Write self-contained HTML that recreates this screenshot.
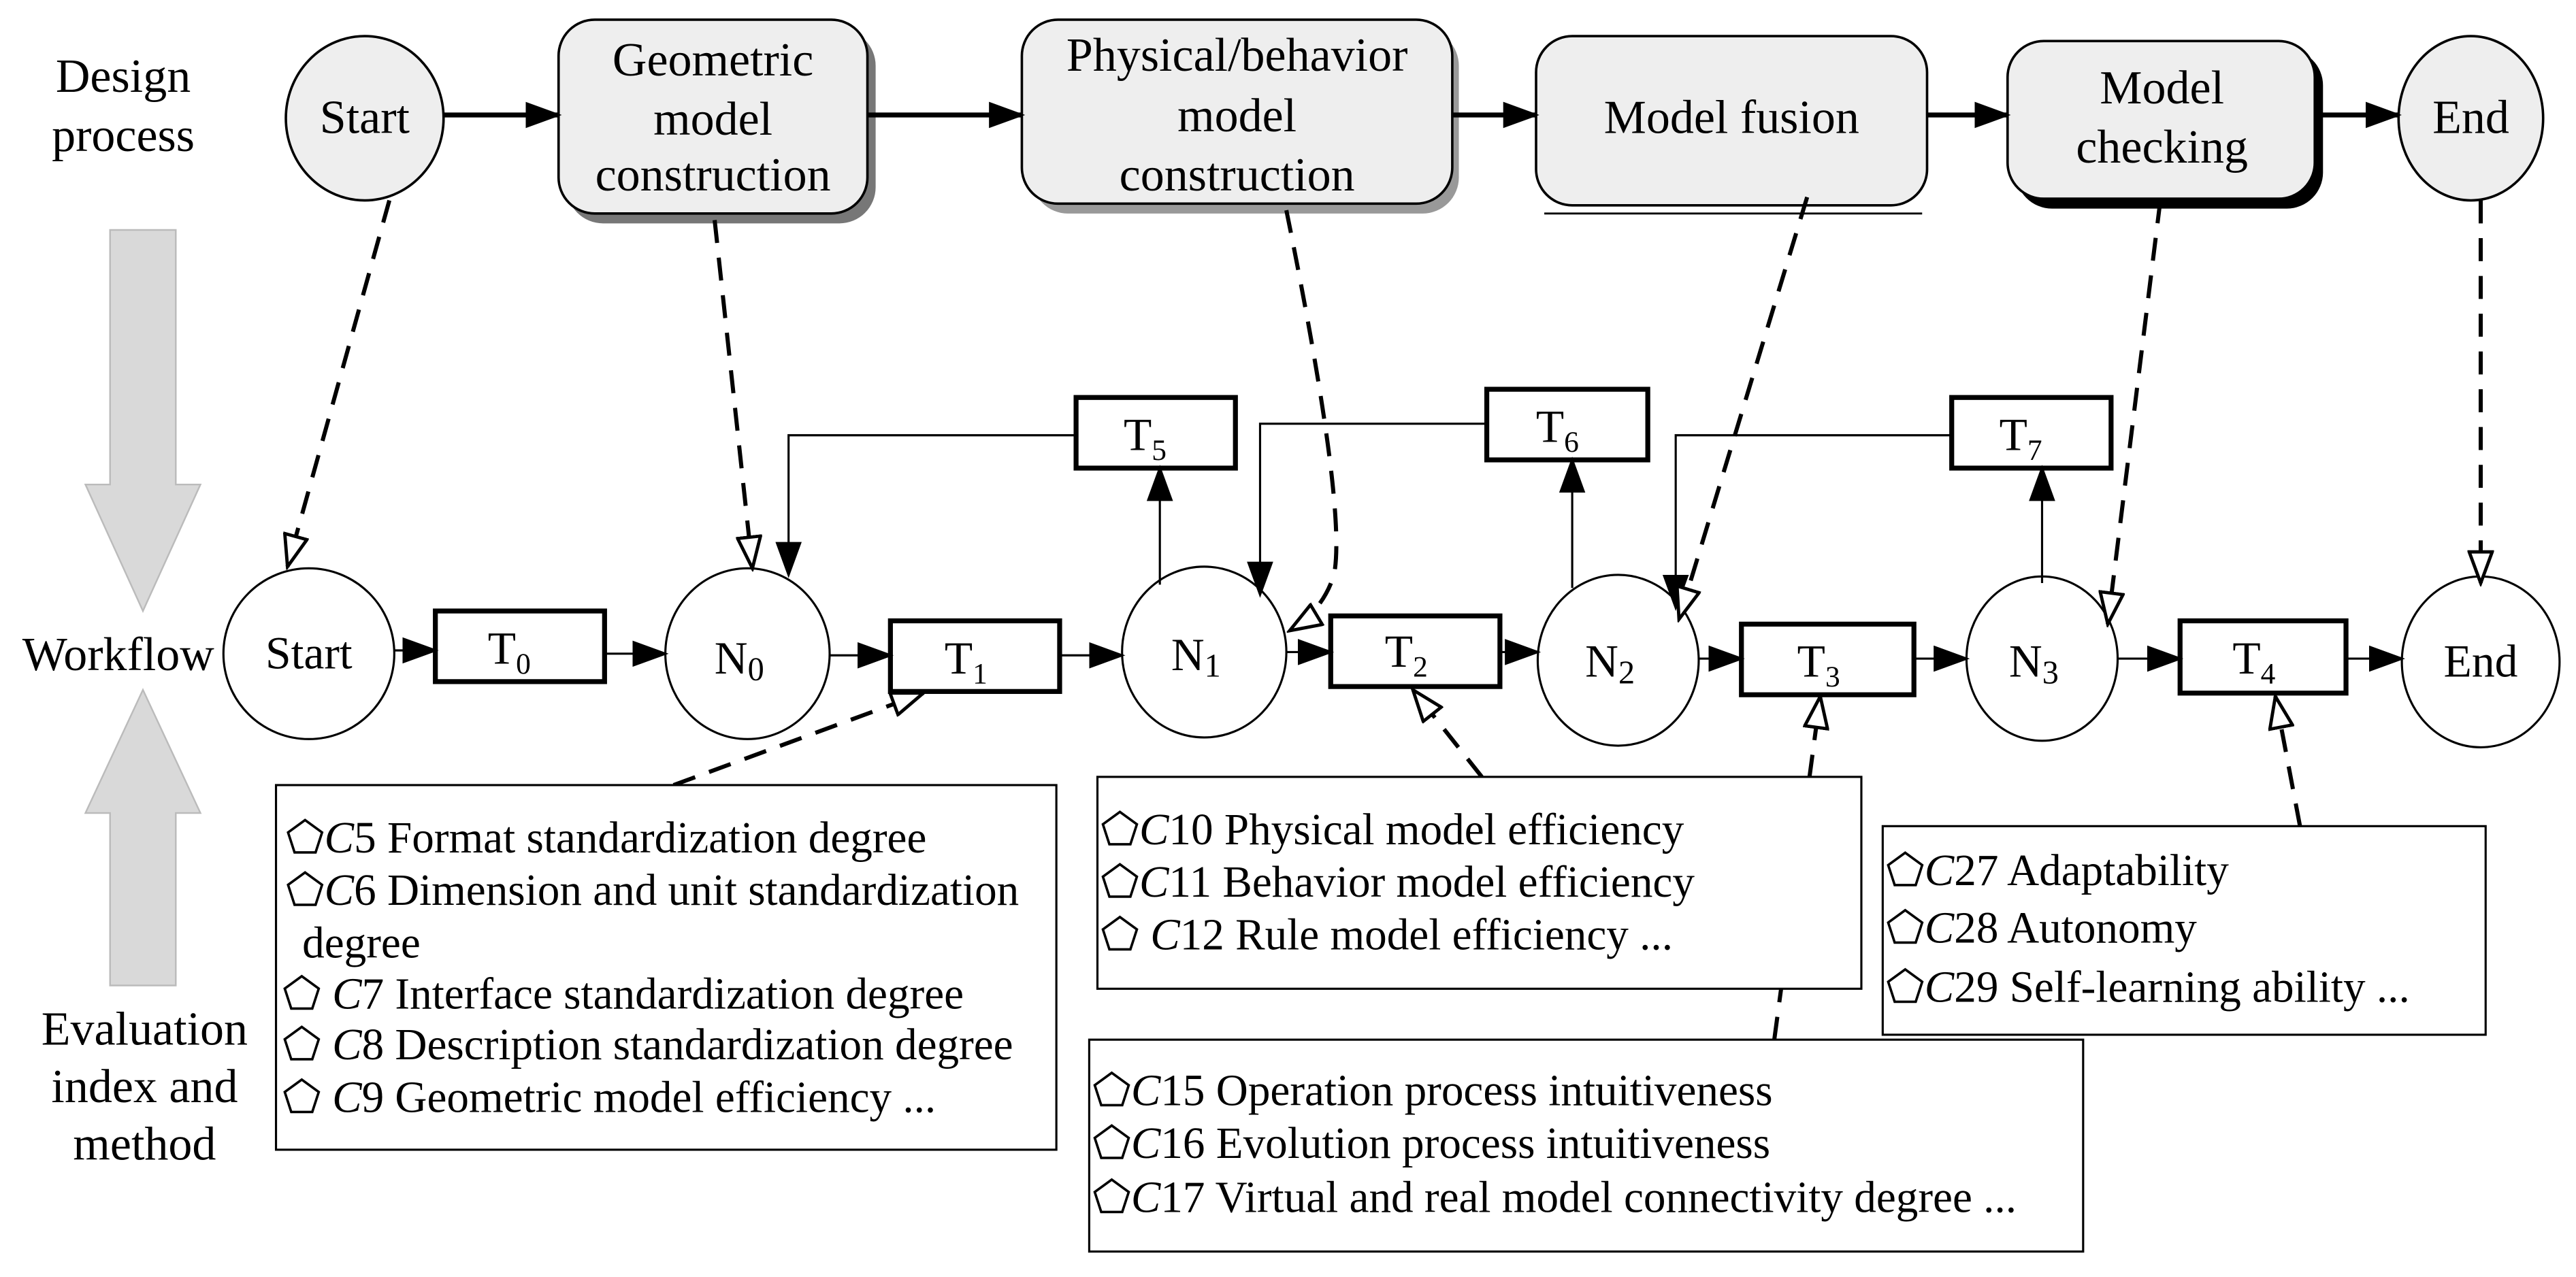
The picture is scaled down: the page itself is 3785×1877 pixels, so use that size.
<!DOCTYPE html>
<html><head><meta charset="utf-8"><style>
html,body{margin:0;padding:0;background:#fff;}
svg{display:block;}
text{font-family:"Liberation Serif",serif;fill:#000;}
</style></head><body>
<svg width="3785" height="1877" viewBox="0 0 1568 777.5" preserveAspectRatio="none" xmlns="http://www.w3.org/2000/svg">
<defs>
<marker id="ab" markerWidth="22" markerHeight="16" refX="20" refY="8" orient="auto" markerUnits="userSpaceOnUse"><path d="M0,0 L22,8 L0,16 z" fill="#000"/></marker>
<marker id="o" markerWidth="22" markerHeight="16" refX="20" refY="8" orient="auto" markerUnits="userSpaceOnUse"><path d="M1,1 L20,8 L1,15 z" fill="#fff" stroke="#000" stroke-width="2"/></marker>
</defs>
<g font-size="29">
<text x="75" y="56" text-anchor="middle">Design</text>
<text x="75" y="92" text-anchor="middle">process</text>
<text x="72" y="408" text-anchor="middle">Workflow</text>
<text x="88" y="636" text-anchor="middle">Evaluation</text>
<text x="88" y="671" text-anchor="middle">index and</text>
<text x="88" y="706" text-anchor="middle">method</text>
</g>
<path d="M67,140 H107 V295 H122 L87,372 L52,295 H67 Z" fill="#d9d9d9" stroke="#bbb" stroke-width="1"/>
<path d="M67,600 H107 V495 H122 L87,420 L52,495 H67 Z" fill="#d9d9d9" stroke="#bbb" stroke-width="1"/>
<g stroke="#000" stroke-width="1.5">
<ellipse cx="222" cy="72" rx="48" ry="50" fill="#eee"/>
<rect x="345" y="18" width="188" height="118" rx="22" fill="#777" stroke="none"/>
<rect x="340" y="12" width="188" height="118" rx="22" fill="#eee"/>
<rect x="628" y="18" width="260" height="112" rx="22" fill="#999" stroke="none"/>
<rect x="622" y="12" width="262" height="112" rx="22" fill="#eee"/>
<rect x="935" y="22" width="238" height="103" rx="22" fill="#eee"/>
<line x1="940" y1="130" x2="1170" y2="130" stroke-width="1.2"/>
<rect x="1227" y="30" width="187" height="97" rx="22" fill="#000" stroke="none"/>
<rect x="1222" y="25" width="187" height="96" rx="22" fill="#eee"/>
<ellipse cx="1504" cy="72" rx="44" ry="50" fill="#eee"/>
</g>
<g font-size="29" text-anchor="middle">
<text x="222" y="81">Start</text>
<text x="434" y="46">Geometric</text><text x="434" y="82">model</text><text x="434" y="116">construction</text>
<text x="753" y="43">Physical/behavior</text><text x="753" y="80">model</text><text x="753" y="116">construction</text>
<text x="1054" y="81">Model fusion</text>
<text x="1316" y="63">Model</text><text x="1316" y="99">checking</text>
<text x="1504" y="81">End</text>
</g>
<g stroke="#000" stroke-width="3" fill="none">
<line x1="270" y1="70" x2="340" y2="70" marker-end="url(#ab)"/>
<line x1="528" y1="70" x2="622" y2="70" marker-end="url(#ab)"/>
<line x1="884" y1="70" x2="935" y2="70" marker-end="url(#ab)"/>
<line x1="1173" y1="70" x2="1222" y2="70" marker-end="url(#ab)"/>
<line x1="1409" y1="70" x2="1460" y2="70" marker-end="url(#ab)"/>
</g>
<g stroke="#000" stroke-width="1.3" fill="#fff">
<ellipse cx="188" cy="398" rx="52" ry="52"/>
<ellipse cx="455" cy="398" rx="50" ry="52"/>
<ellipse cx="733" cy="397" rx="50" ry="52"/>
<ellipse cx="985" cy="402" rx="49" ry="52"/>
<ellipse cx="1243" cy="401" rx="46" ry="50"/>
<ellipse cx="1510" cy="403" rx="48" ry="52"/>
</g>
<g stroke="#000" stroke-width="3" fill="#fff">
<rect x="265" y="372" width="103" height="43"/>
<rect x="542" y="378" width="103" height="43"/>
<rect x="810" y="375" width="103" height="43"/>
<rect x="1060" y="380" width="105" height="43"/>
<rect x="1327" y="378" width="101" height="44"/>
<rect x="655" y="242" width="97" height="43"/>
<rect x="905" y="237" width="98" height="43"/>
<rect x="1188" y="242" width="97" height="43"/>
</g>
<g font-size="28" text-anchor="middle">
<text x="188" y="407">Start</text>
<text x="310" y="404">T<tspan font-size="18" dy="6">0</tspan></text>
<text x="450" y="410">N<tspan font-size="20" dy="4">0</tspan></text>
<text x="588" y="410">T<tspan font-size="18" dy="6">1</tspan></text>
<text x="728" y="408">N<tspan font-size="20" dy="4">1</tspan></text>
<text x="856" y="406">T<tspan font-size="18" dy="6">2</tspan></text>
<text x="980" y="412">N<tspan font-size="20" dy="4">2</tspan></text>
<text x="1107" y="412">T<tspan font-size="18" dy="6">3</tspan></text>
<text x="1238" y="412">N<tspan font-size="20" dy="4">3</tspan></text>
<text x="1372" y="410">T<tspan font-size="18" dy="6">4</tspan></text>
<text x="1510" y="412">End</text>
<text x="697" y="274">T<tspan font-size="18" dy="6">5</tspan></text>
<text x="948" y="269">T<tspan font-size="18" dy="6">6</tspan></text>
<text x="1230" y="274">T<tspan font-size="18" dy="6">7</tspan></text>
</g>
<g stroke="#000" stroke-width="1.3" fill="none">
<line x1="240" y1="396" x2="265" y2="396" marker-end="url(#ab)"/>
<line x1="368" y1="398" x2="405" y2="398" marker-end="url(#ab)"/>
<line x1="505" y1="399" x2="542" y2="399" marker-end="url(#ab)"/>
<line x1="645" y1="399" x2="683" y2="399" marker-end="url(#ab)"/>
<line x1="783" y1="397" x2="810" y2="397" marker-end="url(#ab)"/>
<line x1="913" y1="397" x2="936" y2="397" marker-end="url(#ab)"/>
<line x1="1034" y1="401" x2="1060" y2="401" marker-end="url(#ab)"/>
<line x1="1165" y1="401" x2="1197" y2="401" marker-end="url(#ab)"/>
<line x1="1289" y1="401" x2="1327" y2="401" marker-end="url(#ab)"/>
<line x1="1428" y1="401" x2="1462" y2="401" marker-end="url(#ab)"/>
<line x1="706" y1="356" x2="706" y2="285" marker-end="url(#ab)"/>
<polyline points="655,265 480,265 480,350" marker-end="url(#ab)"/>
<line x1="957" y1="358" x2="957" y2="280" marker-end="url(#ab)"/>
<polyline points="905,258 767,258 767,362" marker-end="url(#ab)"/>
<line x1="1243" y1="355" x2="1243" y2="285" marker-end="url(#ab)"/>
<polyline points="1188,265 1020,265 1020,370" marker-end="url(#ab)"/>
</g>
<g stroke="#000" stroke-width="2.5" fill="none" stroke-dasharray="14,9">
<line x1="237" y1="122" x2="175" y2="345" marker-end="url(#o)"/>
<line x1="435" y1="134" x2="458" y2="346" marker-end="url(#o)"/>
<path d="M783,128 Q820,310 812,350 Q805,372 785,384" marker-end="url(#o)"/>
<line x1="1100" y1="120" x2="1022" y2="377" marker-end="url(#o)"/>
<line x1="1315" y1="122" x2="1283" y2="380" marker-end="url(#o)"/>
<line x1="1510" y1="122" x2="1510" y2="355" marker-end="url(#o)"/>
<line x1="410" y1="478" x2="562" y2="422" marker-end="url(#o)"/>
<line x1="902" y1="473" x2="860" y2="420" marker-end="url(#o)"/>
<line x1="1080" y1="633" x2="1108" y2="424" marker-end="url(#o)"/>
<line x1="1400" y1="503" x2="1385" y2="424" marker-end="url(#o)"/>
</g>
<g stroke="#000" stroke-width="1.3" fill="#fff">
<rect x="168" y="478" width="475" height="222"/>
<rect x="668" y="473" width="465" height="129"/>
<rect x="1146" y="503" width="367" height="127"/>
<rect x="663" y="633" width="605" height="129"/>
</g>
<g font-size="27">
<text x="174" y="519">⬠<tspan font-style="italic">C</tspan>5 Format standardization degree</text>
<text x="174" y="551">⬠<tspan font-style="italic">C</tspan>6 Dimension and unit standardization</text>
<text x="184" y="583">degree</text>
<text x="172" y="614">⬠ <tspan font-style="italic">C</tspan>7 Interface standardization degree</text>
<text x="172" y="645">⬠ <tspan font-style="italic">C</tspan>8 Description standardization degree</text>
<text x="172" y="677">⬠ <tspan font-style="italic">C</tspan>9 Geometric model efficiency ...</text>
<text x="670" y="514">⬠<tspan font-style="italic">C</tspan>10 Physical model efficiency</text>
<text x="670" y="546">⬠<tspan font-style="italic">C</tspan>11 Behavior model efficiency</text>
<text x="670" y="578">⬠ <tspan font-style="italic">C</tspan>12 Rule model efficiency ...</text>
<text x="1148" y="539">⬠<tspan font-style="italic">C</tspan>27 Adaptability</text>
<text x="1148" y="574">⬠<tspan font-style="italic">C</tspan>28 Autonomy</text>
<text x="1148" y="610">⬠<tspan font-style="italic">C</tspan>29 Self-learning ability ...</text>
<text x="665" y="673">⬠<tspan font-style="italic">C</tspan>15 Operation process intuitiveness</text>
<text x="665" y="705">⬠<tspan font-style="italic">C</tspan>16 Evolution process intuitiveness</text>
<text x="665" y="738">⬠<tspan font-style="italic">C</tspan>17 Virtual and real model connectivity degree ...</text>
</g>
</svg>
</body></html>
